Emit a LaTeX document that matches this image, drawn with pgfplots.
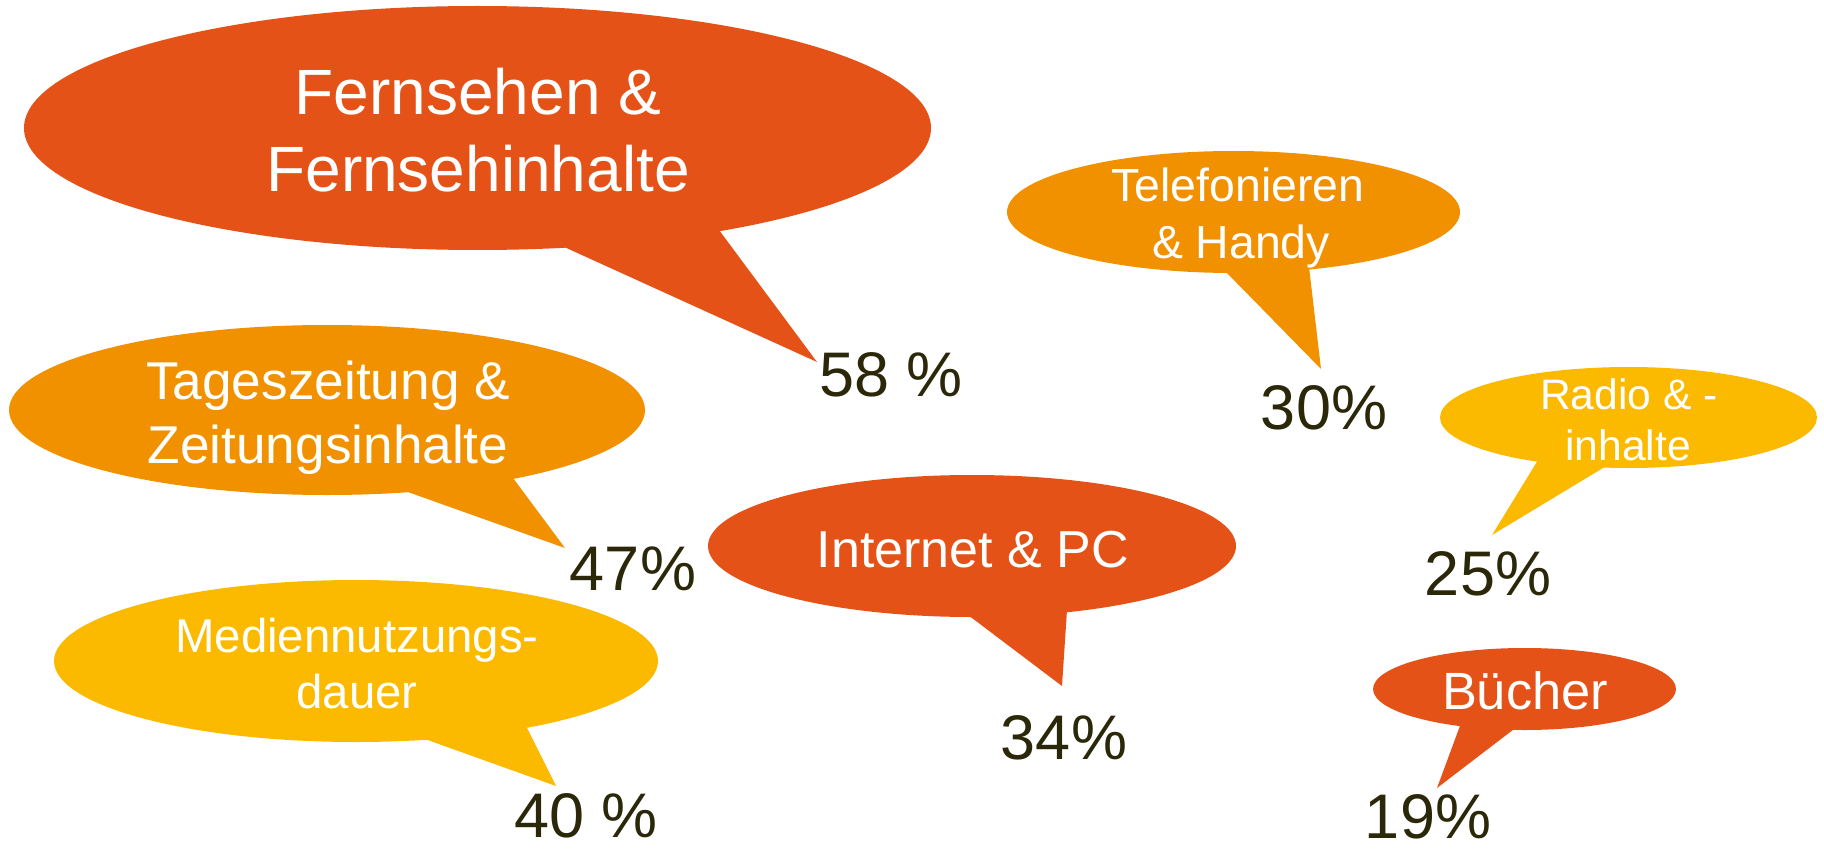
\documentclass[border=0pt]{standalone}
\usepackage{fontspec}
\setmainfont{Liberation Sans}
\usepackage{pgfplots}
\pgfplotsset{compat=1.18}
\usepackage{pgfplotstable}
\definecolor{cRed}{HTML}{E55218}
\definecolor{cOrange}{HTML}{F19100}
\definecolor{cYellow}{HTML}{FBBA00}
\definecolor{cText}{HTML}{2B280A}

% percentage labels: x, baseline y (pixel grid), value
\pgfplotstableread[col sep=comma]{
x,y,v
891,396,58
586,837,40
}\spacedtab
\pgfplotstableread[col sep=comma]{
x,y,v
633,590,47
1064,759,34
1324,429,30
1488,595,25
1428,838,19
}\plaintab

\begin{document}
\begin{tikzpicture}
\begin{axis}[
  width=912pt, height=425pt, scale only axis,
  xmin=0, xmax=1824, ymin=0, ymax=850, y dir=reverse,
  hide axis, clip=false,
]
% bubbles
\fill[cRed] (axis cs:477.5,128) ellipse [x radius=226.75pt, y radius=61pt];
\fill[cRed] (axis cs:562,246) -- (axis cs:719,230) -- (axis cs:817,362) -- cycle;

\fill[cOrange] (axis cs:327,410) ellipse [x radius=159pt, y radius=42.5pt];
\fill[cOrange] (axis cs:405,491) -- (axis cs:513,478) -- (axis cs:565,548) -- cycle;

\fill[cYellow] (axis cs:356,661) ellipse [x radius=151pt, y radius=40.5pt];
\fill[cYellow] (axis cs:422,738) -- (axis cs:526,726) -- (axis cs:556,786) -- cycle;

\fill[cRed] (axis cs:972,546) ellipse [x radius=132pt, y radius=35.5pt];
\fill[cRed] (axis cs:968,615) -- (axis cs:1067,610) -- (axis cs:1062,686) -- cycle;

\fill[cOrange] (axis cs:1233.5,212) ellipse [x radius=113.25pt, y radius=30.5pt];
\fill[cOrange] (axis cs:1224,270) -- (axis cs:1309,267) -- (axis cs:1321,369) -- cycle;

\fill[cYellow] (axis cs:1628.5,417.5) ellipse [x radius=94.25pt, y radius=25.25pt];
\fill[cYellow] (axis cs:1538,460) -- (axis cs:1608,465) -- (axis cs:1492,535) -- cycle;

\fill[cRed] (axis cs:1524.5,689) ellipse [x radius=75.75pt, y radius=20.5pt];
\fill[cRed] (axis cs:1461,723) -- (axis cs:1518,726) -- (axis cs:1437,788) -- cycle;

% bubble texts
\begin{scope}[every node/.style={anchor=base, text=white, inner sep=0pt}]
\node[font=\fontsize{32}{38}\selectfont] at (axis cs:478,115) {Fernsehen \&};
\node[font=\fontsize{32}{38}\selectfont] at (axis cs:478,192) {Fernsehinhalte};
\node[font=\fontsize{26.6}{32}\selectfont] at (axis cs:328,399) {Tageszeitung \&};
\node[font=\fontsize{26.6}{32}\selectfont] at (axis cs:328,463) {Zeitungsinhalte};
\node[font=\fontsize{23.7}{28}\selectfont] at (axis cs:357,652) {Mediennutzungs-};
\node[font=\fontsize{23.7}{28}\selectfont] at (axis cs:357,708) {dauer};
\node[font=\fontsize{26}{31}\selectfont] at (axis cs:973,567) {Internet \& PC};
\node[font=\fontsize{23.2}{28}\selectfont] at (axis cs:1238,202) {Telefonieren};
\node[font=\fontsize{23.2}{28}\selectfont] at (axis cs:1241,258) {\& Handy};
\node[font=\fontsize{21.3}{26}\selectfont] at (axis cs:1629,409) {Radio \& -};
\node[font=\fontsize{21.3}{26}\selectfont] at (axis cs:1628,460) {inhalte};
\node[font=\fontsize{26.2}{31}\selectfont] at (axis cs:1525,709) {Bücher};
\end{scope}

% percentage values
\addplot[only marks, mark=*, mark size=0pt, mark options={draw=none, fill=none},
  point meta=explicit symbolic,
  nodes near coords={\pgfplotspointmeta\ \%},
  every node near coord/.append style={anchor=base, inner sep=0pt, text=cText, font=\fontsize{31.5}{36}\selectfont}]
  table[x=x, y=y, meta=v] {\spacedtab};
\addplot[only marks, mark=*, mark size=0pt, mark options={draw=none, fill=none},
  point meta=explicit symbolic,
  nodes near coords={\pgfplotspointmeta\%},
  every node near coord/.append style={anchor=base, inner sep=0pt, text=cText, font=\fontsize{31.5}{36}\selectfont}]
  table[x=x, y=y, meta=v] {\plaintab};

\coordinate (BL) at (rel axis cs:0,0);
\coordinate (TR) at (rel axis cs:1,1);
\end{axis}
\pgfresetboundingbox
\path (BL) rectangle (TR);
\end{tikzpicture}
\end{document}
